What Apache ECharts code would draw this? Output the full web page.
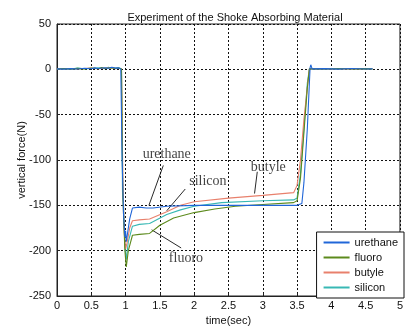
<!DOCTYPE html>
<html>
<head>
<meta charset="utf-8">
<script src="https://cdn.jsdelivr.net/npm/echarts@6/dist/echarts.min.js"></script>
<style>
  html, body { margin: 0; padding: 0; background: #fff; }
  #chart { width: 406px; height: 331px; }
</style>
</head>
<body>
<div id="chart"></div>
<script>
// 数据: [time(sec), vertical force(N)]
var urethane = [[0,0.5],[0.1,0.2],[0.2,0.8],[0.3,0.4],[0.4,1.2],[0.5,0.6],[0.55,1.6],[0.6,0.9],[0.7,1.8],[0.75,1.1],[0.8,2.2],[0.85,1.3],[0.9,1.6],[0.93,0.5],
  [0.95,-100],[0.97,-160],[0.99,-185],[1.0,-178],[1.01,-190],[1.03,-180],[1.06,-165],[1.1,-153],[1.2,-152],[1.3,-153],[1.4,-153],[1.6,-151],
  [2.0,-150],[2.5,-150],[3.0,-150],[3.4,-150],[3.5,-150],[3.57,-148],[3.6,-125],[3.65,-65],[3.69,2],[3.7,5],[3.72,0.5],
  [3.9,0.8],[4.1,0.2],[4.3,0.9],[4.5,0.3],[4.6,0.5]]
var fluoro = [[0,0.3],[0.1,0.9],[0.2,0.2],[0.3,1.1],[0.4,0.5],[0.5,1.4],[0.6,0.7],[0.65,2.1],[0.7,1.0],[0.8,1.9],[0.85,0.9],[0.9,1.5],[0.94,0.4],
  [0.96,-140],[0.99,-200],[1.01,-218],[1.04,-200],[1.1,-183],[1.2,-182],[1.35,-181],[1.5,-172],[1.7,-164],[2.0,-158],[2.3,-154],[2.6,-151],
  [3.0,-149],[3.45,-147],[3.5,-145],[3.55,-120],[3.6,-70],[3.65,-20],[3.68,0.5],[3.7,1.5],
  [3.9,0.4],[4.1,1.0],[4.3,0.3],[4.5,0.8],[4.6,0.4]]
var butyle = [[0,0.6],[0.1,0.3],[0.2,1.0],[0.3,0.5],[0.4,0.9],[0.5,1.5],[0.6,0.6],[0.7,1.3],[0.8,1.7],[0.85,0.8],[0.9,1.2],[0.94,0.3],
  [0.96,-120],[0.98,-180],[1.0,-198],[1.02,-192],[1.06,-175],[1.1,-167],[1.2,-166],[1.35,-165],[1.6,-157],[1.8,-150],[2.0,-146],[2.5,-142],
  [3.0,-139],[3.45,-136],[3.5,-128],[3.55,-100],[3.6,-55],[3.64,-27],[3.68,0.5],[3.7,1.2],
  [3.9,0.6],[4.1,0.3],[4.3,0.8],[4.5,0.4],[4.6,0.6]]
var silicon = [[0,0.4],[0.1,0.7],[0.2,0.3],[0.3,1.3],[0.4,0.6],[0.5,1.0],[0.6,1.8],[0.7,0.8],[0.75,2.3],[0.8,1.2],[0.9,1.8],[0.94,0.5],
  [0.955,-135],[0.97,-150],[0.99,-195],[1.01,-210],[1.04,-190],[1.1,-173],[1.2,-171],[1.35,-170],[1.6,-160],[1.8,-155],[2.0,-151],[2.4,-147],
  [3.0,-145],[3.45,-144],[3.5,-142],[3.55,-115],[3.6,-65],[3.65,-15],[3.68,0.5],[3.7,2],
  [3.9,0.7],[4.1,0.4],[4.3,1.0],[4.5,0.5],[4.6,0.6]]

// 注释文字位置 [time, force, text]
var noteLabels = [[1.6,-94,'urethane'],[2.2,-124,'silicon'],[3.08,-108,'butyle'],[1.88,-209,'fluoro']]
// 注释引线 [[t1,f1],[t2,f2]]
var noteLines = [
  [[1.55,-106],[1.34,-150]],
  [[1.87,-132],[1.60,-156]],
  [[2.92,-113],[2.88,-137]],
  [[1.38,-177],[1.81,-197]]
]

var xTicks = { min: 0, max: 5, interval: 0.5 }
var yTicks = { min: -250, max: 50, interval: 50 }

var names = ['urethane', 'fluoro', 'butyle', 'silicon']
var colors = ['#2066d8', '#5c8a1c', '#e8806c', '#38b8b4']
var seriesData = [urethane, fluoro, butyle, silicon]

var chartDom = document.getElementById('chart')
var myChart = echarts.init(chartDom)

var series = []
for (var i = 0; i < names.length; i++) {
  series.push({
    name: names[i],
    type: 'line',
    data: seriesData[i],
    showSymbol: false,
    symbol: 'none',
    lineStyle: { width: 1.1, color: colors[i] },
    itemStyle: { color: colors[i] },
    z: 3 + (names.length - i)
  })
}
// 注释
series.push({
  name: 'notes',
  type: 'scatter',
  data: noteLabels,
  symbolSize: 1,
  itemStyle: { color: 'rgba(0,0,0,0)' },
  silent: true,
  z: 10,
  label: {
    show: true,
    position: 'inside',
    formatter: function (p) { return p.data[2] },
    fontFamily: 'Liberation Serif',
    fontSize: 14,
    color: '#111'
  },
  markLine: {
    silent: true,
    symbol: ['none', 'none'],
    animation: false,
    label: { show: false },
    lineStyle: { color: '#111', width: 0.9, type: 'solid' },
    data: noteLines.map(function (l) {
      return [{ coord: l[0] }, { coord: l[1] }]
    })
  }
})

var option = {
  animation: false,
  backgroundColor: '#fff',
  title: {
    text: 'Experiment of the Shoke Absorbing Material',
    left: 230,
    textAlign: 'center',
    top: 7,
    textStyle: { fontFamily: 'Liberation Sans', fontSize: 11, fontWeight: 'normal', color: '#111' }
  },
  legend: {
    data: names,
    orient: 'vertical',
    right: 2,
    bottom: 33,
    icon: 'rect',
    backgroundColor: '#fff',
    borderColor: '#111',
    borderWidth: 1,
    padding: [4, 6, 4, 7],
    itemWidth: 26,
    itemHeight: 2,
    itemGap: 2,
    textStyle: { fontFamily: 'Liberation Sans', fontSize: 11, color: '#111', lineHeight: 13 }
  },
  grid: {
    left: 57,
    right: 2,
    top: 24,
    bottom: 32,
    show: true,
    borderColor: '#222',
    borderWidth: 1,
    backgroundColor: '#fff'
  },
  xAxis: {
    type: 'value',
    min: xTicks.min,
    max: xTicks.max,
    interval: xTicks.interval,
    name: 'time(sec)',
    nameLocation: 'middle',
    nameGap: 19,
    nameMoveOverlap: false,
    nameTextStyle: { fontFamily: 'Liberation Sans', fontSize: 11, color: '#111' },
    axisLine: { show: true, onZero: false, lineStyle: { color: '#222' } },
    axisTick: { show: true, inside: true, length: 3, lineStyle: { color: '#222' } },
    axisLabel: { fontFamily: 'Liberation Sans', fontSize: 11, color: '#111', margin: 4 },
    splitLine: { show: true, lineStyle: { color: '#111', type: [2, 2], width: 1 } }
  },
  yAxis: {
    type: 'value',
    min: yTicks.min,
    max: yTicks.max,
    interval: yTicks.interval,
    name: 'vertical force(N)',
    nameLocation: 'middle',
    nameGap: 30,
    nameMoveOverlap: false,
    nameTextStyle: { fontFamily: 'Liberation Sans', fontSize: 11, color: '#111' },
    axisLine: { show: true, onZero: false, lineStyle: { color: '#222' } },
    axisTick: { show: true, inside: true, length: 3, lineStyle: { color: '#222' } },
    axisLabel: { fontFamily: 'Liberation Sans', fontSize: 11, color: '#111', margin: 6 },
    splitLine: { show: true, lineStyle: { color: '#111', type: [2, 2], width: 1 } }
  },
  series: series
}

myChart.setOption(option)
</script>
</body>
</html>
